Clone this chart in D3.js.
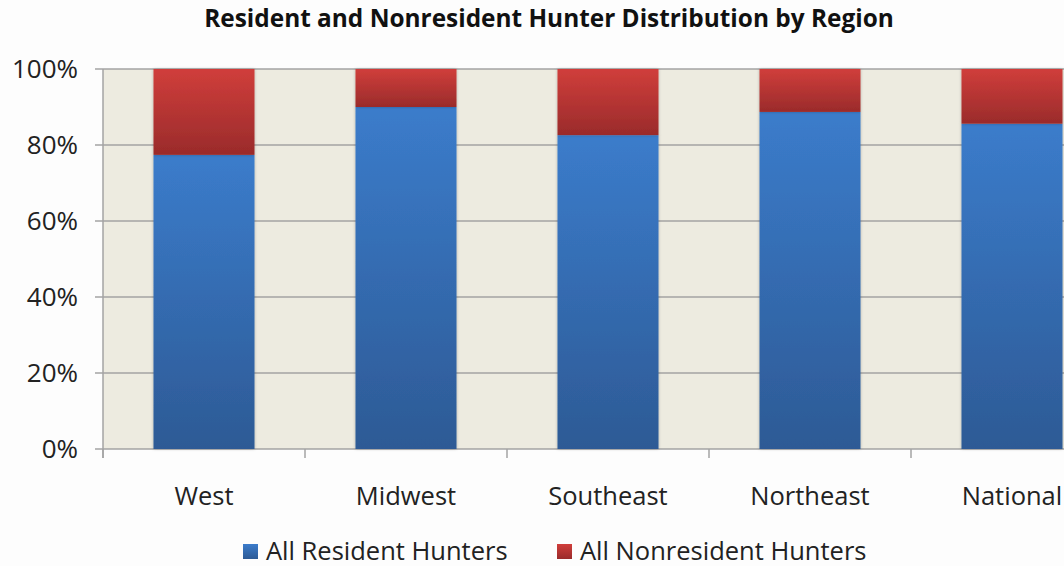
<!DOCTYPE html>
<html>
<head>
<meta charset="utf-8">
<script src="https://cdn.jsdelivr.net/npm/d3@7"></script>
<style>
  body { margin: 0; background: #fdfdfd; }
  svg { display: block; font-family: "Open Sans", sans-serif; }
</style>
</head>
<body>
<svg id="chart" width="1064" height="566"></svg>
<script>
const regions = ['West', 'Midwest', 'Southeast', 'Northeast', 'National'];
const residentPct = [77.4, 90.0, 82.6, 88.7, 85.6];
const nonresidentPct = [22.6, 10.0, 17.4, 11.3, 14.4];
const seriesNames = ['All Resident Hunters', 'All Nonresident Hunters'];
const yTicks = [0, 20, 40, 60, 80, 100];

const svg = d3.select('#chart');

// plot area runs off the right edge in the original
const plotLeft = 103;
const plotTop = 69;
const plotBottom = 449;
const bandW = 202;

const x = d3.scaleBand()
  .domain(regions)
  .range([plotLeft, plotLeft + bandW * regions.length])
  .paddingInner(0.5)
  .paddingOuter(0.25);

const y = d3.scaleLinear().domain([0, 100]).range([plotBottom, plotTop]);

const defs = svg.append('defs');
function grad(id, c1, c2) {
  const g = defs.append('linearGradient')
    .attr('id', id)
    .attr('x1', 0).attr('y1', 0).attr('x2', 0).attr('y2', 1);
  g.append('stop').attr('offset', '0%').attr('stop-color', c1);
  g.append('stop').attr('offset', '100%').attr('stop-color', c2);
}
grad('blueGrad', '#3b7ccb', '#2d5a95');
grad('redGrad', '#d03e3b', '#9a2b2b');
const shadow = defs.append('filter').attr('id', 'shadow')
  .attr('x', '-10%').attr('y', '-10%').attr('width', '120%').attr('height', '120%');
shadow.append('feDropShadow')
  .attr('dx', 0).attr('dy', 0).attr('stdDeviation', 1.5)
  .attr('flood-color', '#000').attr('flood-opacity', 0.25);

// title
svg.append('text')
  .attr('x', 549)
  .attr('y', 27)
  .attr('text-anchor', 'middle')
  .attr('font-size', 24.4)
  .attr('font-weight', 'bold')
  .attr('fill', '#111')
  .text('Resident and Nonresident Hunter Distribution by Region');

// plot background
svg.append('rect')
  .attr('x', plotLeft)
  .attr('y', plotTop)
  .attr('width', bandW * regions.length)
  .attr('height', plotBottom - plotTop)
  .attr('fill', '#edebe0');

// gridlines
svg.append('g')
  .selectAll('line')
  .data(yTicks)
  .join('line')
  .attr('x1', plotLeft - 8)
  .attr('x2', plotLeft + bandW * regions.length)
  .attr('y1', d => y(d))
  .attr('y2', d => y(d))
  .attr('stroke', '#a3a3a3')
  .attr('stroke-width', 1.5);

// y labels
svg.append('g')
  .selectAll('text')
  .data(yTicks)
  .join('text')
  .attr('x', 78)
  .attr('y', d => y(d) + 9)
  .attr('text-anchor', 'end')
  .attr('font-size', 26)
  .attr('fill', '#222')
  .text(d => d + '%');

// axes lines
svg.append('line')
  .attr('x1', plotLeft).attr('x2', plotLeft)
  .attr('y1', plotTop).attr('y2', plotBottom + 9)
  .attr('stroke', '#a3a3a3').attr('stroke-width', 1.5);

svg.append('g')
  .selectAll('line')
  .data(d3.range(regions.length + 1))
  .join('line')
  .attr('x1', i => plotLeft + bandW * i)
  .attr('x2', i => plotLeft + bandW * i)
  .attr('y1', plotBottom)
  .attr('y2', plotBottom + 9)
  .attr('stroke', '#a3a3a3')
  .attr('stroke-width', 1.5);

// bars
const bars = svg.append('g');
regions.forEach((r, i) => {
  bars.append('rect')
    .attr('x', x(r))
    .attr('y', y(residentPct[i]))
    .attr('width', x.bandwidth())
    .attr('height', y(0) - y(residentPct[i]))
    .attr('fill', 'url(#blueGrad)')
    .attr('filter', 'url(#shadow)');
  bars.append('rect')
    .attr('x', x(r))
    .attr('y', y(residentPct[i] + nonresidentPct[i]))
    .attr('width', x.bandwidth())
    .attr('height', y(residentPct[i]) - y(residentPct[i] + nonresidentPct[i]))
    .attr('fill', 'url(#redGrad)')
    .attr('filter', 'url(#shadow)');
});

// category labels
svg.append('g')
  .selectAll('text')
  .data(regions)
  .join('text')
  .attr('x', d => x(d) + x.bandwidth() / 2)
  .attr('y', 505)
  .attr('text-anchor', 'middle')
  .attr('font-size', 25.5)
  .attr('fill', '#222')
  .text(d => d);

// legend
const legendX = [243, 557];
const legendFill = ['url(#blueGrad)', 'url(#redGrad)'];
seriesNames.forEach((name, i) => {
  svg.append('rect')
    .attr('x', legendX[i])
    .attr('y', 544)
    .attr('width', 15)
    .attr('height', 15)
    .attr('fill', legendFill[i]);
  svg.append('text')
    .attr('x', legendX[i] + 23)
    .attr('y', 560)
    .attr('font-size', 25.5)
    .attr('fill', '#222')
    .text(name);
});
</script>
</body>
</html>
